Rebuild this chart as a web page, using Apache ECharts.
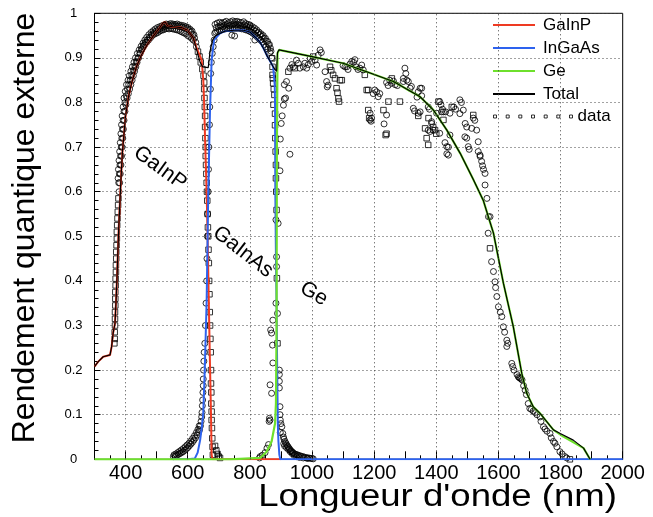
<!DOCTYPE html>
<html><head><meta charset="utf-8">
<script src="https://cdn.jsdelivr.net/npm/echarts@6/dist/echarts.min.js"></script>
<style>html,body{margin:0;padding:0;background:#fff}#c{width:653px;height:517px}</style>
</head><body><div id="c"></div>
<script>
// ---------- data ----------
const xTickLabels = [400,600,800,1000,1200,1400,1600,1800,2000];
const xGridValues = [400,600,800,1000,1200,1400,1600,1800];
const seriesNames = ['GaInP','InGaAs','Ge','Total','data'];

const gainp = [[300,0.208],[312,0.219],[328,0.23],[350,0.234],[355,0.252],[360,0.283],[366,0.305],[369,0.35],[372,0.40],[375,0.46],[378,0.52],[382,0.58],[386,0.64],[390,0.69],[400,0.77],[410,0.815],[420,0.845],[435,0.88],[450,0.905],[470,0.93],[490,0.95],[510,0.968],[520,0.978],[527,0.981],[535,0.972],[550,0.97],[580,0.968],[600,0.962],[618,0.945],[630,0.92],[645,0.895],[650,0.852],[652.5,0.806],[656.6,0.70],[661,0.596],[664,0.5],[668.5,0.33],[672,0.2],[675,0.1],[677,0.01],[680,0],[900,0]];

const ingaas = [[550,0],[600,0],[623,0.002],[632,0.015],[640,0.043],[645,0.07],[650,0.103],[654.6,0.193],[658,0.28],[661,0.357],[666,0.59],[671.7,0.78],[677,0.895],[684.6,0.94],[704,0.955],[720,0.96],[750,0.962],[780,0.962],[800,0.958],[820,0.945],[833,0.935],[845,0.92],[855,0.905],[865,0.893],[875,0.88],[880,0.84],[881,0.80],[882,0.6],[884,0.45],[886,0.35],[888,0.2],[890,0.08],[892,0.04],[895,0.01],[898,0],[2000,0]];

const ge = [[300,0],[736,0],[833,0.003],[854,0.017],[870,0.04],[881,0.08],[884,0.125],[886,0.3],[887,0.7],[889,0.91],[894,0.918],[1000,0.903],[1100,0.888],[1176,0.869],[1262,0.847],[1348,0.813],[1391,0.783],[1434,0.738],[1477,0.686],[1520,0.626],[1551,0.581],[1584,0.507],[1616,0.395],[1648,0.297],[1675,0.193],[1691,0.148],[1712,0.118],[1734,0.103],[1777,0.066],[1809,0.051],[1850,0.035],[1874,0.025],[1895,0]];

const total = [[300,0.208],[312,0.219],[328,0.23],[350,0.234],[355,0.252],[360,0.283],[366,0.305],[369,0.35],[372,0.40],[375,0.46],[378,0.52],[382,0.58],[386,0.64],[390,0.69],[400,0.77],[410,0.815],[420,0.845],[435,0.88],[450,0.905],[470,0.93],[490,0.95],[510,0.968],[520,0.978],[527,0.981],[535,0.972],[550,0.97],[580,0.968],[600,0.962],[618,0.945],[630,0.915],[640,0.89],[648,0.88],[666,0.878],[672,0.915],[680,0.94],[690,0.95],[704,0.955],[720,0.96],[750,0.962],[780,0.962],[800,0.958],[820,0.945],[833,0.935],[845,0.92],[855,0.905],[865,0.893],[875,0.88],[886,0.87],[889,0.912],[894,0.918],[1000,0.903],[1100,0.888],[1176,0.869],[1262,0.847],[1348,0.813],[1391,0.783],[1434,0.738],[1477,0.686],[1520,0.626],[1551,0.581],[1584,0.507],[1616,0.395],[1648,0.297],[1675,0.193],[1691,0.148],[1712,0.118],[1734,0.103],[1777,0.066],[1799,0.058],[1841,0.043],[1874,0.025],[1895,0]];

// measured points, open squares
const dataSquares = [
[364,0.26],[365,0.27],[365,0.285],[366,0.30],[366,0.315],[366,0.33],[367,0.345],[367,0.36],[367,0.375],[368,0.39],[368,0.405],[369,0.42],[369,0.435],[370,0.45],[370,0.465],[371,0.48],[372,0.495],[372,0.51],[373,0.525],[374,0.54],[375,0.555],[376,0.57],[377,0.585],
[633,0.914],[638,0.903],[642,0.89],[647,0.875],[651,0.86],[653,0.845],[653,0.83],[654,0.81],[655,0.79],[656,0.77],[656,0.745],[657,0.72],[658,0.70],[658,0.68],[659,0.66],[660,0.64],[661,0.62],[662,0.60],[663,0.58],[664,0.55],[665,0.52],[666,0.50],[667,0.47],[668,0.44],[669,0.40],[670,0.37],[671,0.33],[672,0.30],[673,0.27],[674,0.24],[675,0.20],[675,0.17],[676,0.15],[676,0.125],[677,0.107],[677,0.088],[678,0.07],[679,0.047],[680,0.028],[681,0.01],[688,0.03],[692,0.02],[696,0.012],[700,0.006],[704,0.003],
[872,0.899],[873,0.88],[873,0.862],[874,0.854],[875,0.843],[877,0.83],[879,0.817],[876,0.795],[881,0.775],[881,0.749],[882,0.72],[883,0.69],[884,0.66],[884,0.63],[885,0.60],[886,0.559],[887,0.406],[889,0.26],
[924,0.869],[945,0.877],[1004,0.903],[1058,0.880],[1062,0.872],[1068,0.862],[1074,0.854],[1079,0.832],[1082,0.822],[1085,0.809],[1087,0.802],[1090,0.85],[1096,0.85],[1170,0.862],[1176,0.828],[1181,0.828],[1181,0.783],[1184,0.765],[1230,0.783],[1237,0.727],[1240,0.73],[1246,0.802],[1257,0.854],[1283,0.802],[1342,0.77],[1364,0.742],[1369,0.72],[1374,0.705],[1396,0.738],[1390,0.745],[1400,0.73],[1407,0.802],[1423,0.761],[1450,0.79],[1519,0.772],[1375,0.765],
[1573,0.473],[1830,0.0]
];

// measured points, open circles
const dataCircles = [
[379,0.60],[381,0.62],[383,0.64],[385,0.66],[387,0.68],[389,0.70],[391,0.72],[393,0.74],[395,0.76],[398,0.78],[401,0.795],[405,0.81],[409,0.82],[413,0.83],[417,0.84],[421,0.85],[425,0.86],[429,0.87],[433,0.88],[437,0.89],[442,0.90],[447,0.91],[452,0.918],[457,0.925],[462,0.93],[468,0.935],[474,0.94],[480,0.945],[486,0.95],[492,0.953],[498,0.955],[504,0.957],[510,0.96],[516,0.962],[522,0.963],[528,0.965],[534,0.966],[540,0.965],[546,0.966],[552,0.965],[558,0.964],[564,0.963],[570,0.962],[576,0.96],[582,0.958],[588,0.956],[594,0.954],[600,0.95],[606,0.948],[612,0.944],[618,0.94],
[378,0.62],[380,0.64],[382,0.66],[384,0.68],[386,0.70],[388,0.72],[390,0.74],[392,0.76],[395,0.78],[398,0.80],[402,0.815],[406,0.83],[410,0.84],[415,0.85],[420,0.862],[425,0.872],[430,0.882],[435,0.892],[440,0.90],[446,0.91],[452,0.92],[458,0.928],[464,0.935],[470,0.94],[477,0.946],[484,0.952],[491,0.956],[498,0.96],[505,0.963],[512,0.966],[519,0.968],[526,0.97],[533,0.972],[540,0.972],[547,0.973],[554,0.972],[561,0.972],[568,0.971],[575,0.97],[582,0.969],[589,0.968],[596,0.966],[603,0.963],[610,0.958],[616,0.952],[622,0.945],
[376,0.63],[377,0.65],[379,0.67],[381,0.69],[383,0.71],[385,0.73],[387,0.75],[389,0.77],[392,0.79],[395,0.81],[399,0.825],[403,0.84],[408,0.85],[412,0.86],[417,0.87],[422,0.88],[427,0.89],[432,0.90],[438,0.91],[444,0.918],[450,0.926],[456,0.933],[462,0.94],[468,0.946],[475,0.952],[482,0.957],[489,0.961],[496,0.965],[503,0.968],[510,0.97],[517,0.972],[524,0.974],[531,0.976],[538,0.975],[545,0.977],[552,0.976],[559,0.975],[566,0.976],[573,0.974],[580,0.973],[587,0.972],[594,0.97],[601,0.968],[608,0.964],[614,0.96],[620,0.952],[626,0.935],[628,0.925],
[554,0.006],[560,0.007],[565,0.009],[570,0.011],[575,0.013],[580,0.015],[585,0.017],[590,0.02],[595,0.023],[600,0.026],[605,0.03],[610,0.034],[615,0.038],[620,0.043],[625,0.048],[630,0.054],[635,0.06],[638,0.066],[641,0.075],[643,0.085],[645,0.095],[646,0.105],[647,0.12],[648,0.133],[649,0.15],[650,0.165],[650,0.18],[651,0.2],[652,0.22],[653,0.24],[655,0.26],[657,0.30],[659,0.35],[661,0.40],[662,0.45],[663,0.50],[664,0.55],[666,0.60],[667,0.65],[668,0.70],[670,0.75],[671,0.79],[673,0.83],[674,0.865],[676,0.89],[679,0.91],[682,0.925],[685,0.94],[687,0.955],
[556,0.01],[562,0.012],[568,0.015],[574,0.018],[580,0.021],[586,0.024],[592,0.028],[598,0.032],[604,0.036],[610,0.041],[616,0.047],[622,0.053],[628,0.06],[633,0.067],[637,0.075],
[690,0.958],[696,0.96],[702,0.962],[708,0.963],[714,0.964],[720,0.965],[726,0.966],[732,0.966],[738,0.965],[744,0.966],[750,0.967],[756,0.966],[762,0.967],[768,0.966],[774,0.965],[780,0.965],[786,0.963],[792,0.962],[798,0.96],[804,0.958],[810,0.955],[816,0.952],[822,0.948],[828,0.944],[834,0.94],[840,0.936],[846,0.93],[852,0.925],[858,0.92],[864,0.912],[870,0.90],
[692,0.968],[699,0.97],[706,0.972],[713,0.97],[720,0.973],[727,0.975],[734,0.972],[741,0.974],[748,0.976],[755,0.974],[762,0.975],[769,0.973],[776,0.972],[783,0.974],[790,0.97],[797,0.968],[804,0.966],[811,0.963],[818,0.96],[825,0.956],[832,0.952],[839,0.948],[846,0.943],[853,0.937],[860,0.93],[866,0.922],[800,0.974],[742,0.951],[751,0.949],[816,0.94],
[688,0.975],[695,0.978],[703,0.98],[710,0.978],[717,0.98],[724,0.982],[731,0.979],[738,0.981],[745,0.983],[752,0.981],[759,0.982],[766,0.98],[773,0.979],[780,0.981],[787,0.977],[794,0.975],[801,0.972],[808,0.97],[815,0.967],[822,0.963],[829,0.958],[836,0.954],[843,0.95],[850,0.944],[857,0.937],[863,0.93],[868,0.915],
[831,0.003],[833,0.006],[840,0.009],[849,0.015],[855,0.025],[860,0.033],[862,0.085],[863,0.092],[865,0.088],[865,0.167],[870,0.148],[867,0.29],[870,0.283],[873,0.256],[874,0.216],[874,0.312],[884,0.35],[886,0.432],[886,0.454],[884,0.537],[891,0.529],[889,0.327],[895,0.2],[895,0.175],[895,0.19],[895,0.16],[897,0.118],[897,0.1],[898,0.088],[900,0.08],[898,0.06],[903,0.073],[906,0.058],[908,0.05],
[897,0.647],[898,0.718],[901,0.753],[904,0.77],[908,0.794],[911,0.808],[915,0.81],[911,0.84],[918,0.847],[925,0.832],[929,0.684],
[910,0.045],[913,0.04],[916,0.036],[919,0.032],[922,0.029],[925,0.026],[928,0.023],[931,0.02],[934,0.018],[937,0.016],[940,0.014],[944,0.012],[948,0.011],[952,0.01],[956,0.009],[960,0.008],[965,0.007],[970,0.006],[975,0.005],[980,0.004],[985,0.003],[990,0.003],[995,0.002],[1000,0.002],[1004,0.001],
[909,0.035],[912,0.03],[918,0.026],[924,0.022],[930,0.017],[936,0.013],[942,0.009],[950,0.006],[960,0.004],[972,0.003],[985,0.002],
[929,0.877],[935,0.885],[940,0.880],[950,0.895],[956,0.888],[961,0.877],[972,0.880],[977,0.888],[983,0.877],[988,0.885],[994,0.899],[999,0.892],[1010,0.895],[1015,0.884],[1020,0.906],[1026,0.918],[1030,0.912],[1042,0.869],[1047,0.847],[1049,0.835],[1052,0.839],[1100,0.883],[1106,0.880],[1112,0.88],[1116,0.874],[1122,0.886],[1128,0.892],[1134,0.89],[1138,0.896],[1142,0.88],[1148,0.874],[1154,0.877],[1160,0.884],[1165,0.873],[1197,0.82],[1202,0.828],[1208,0.824],[1213,0.813],[1218,0.82],[1187,0.776],[1187,0.761],[1190,0.758],[1192,0.765],[1240,0.772],[1232,0.752],[1240,0.845],[1245,0.838],[1250,0.85],[1256,0.843],[1262,0.848],[1268,0.84],[1275,0.838],[1294,0.854],[1299,0.877],[1302,0.865],[1294,0.847],[1305,0.85],[1310,0.847],[1316,0.832],[1320,0.836],[1342,0.824],[1338,0.812],[1348,0.832],[1353,0.832],[1353,0.815],[1326,0.787],[1330,0.781],[1342,0.776],[1348,0.779],[1374,0.79],[1378,0.785],[1401,0.776],[1411,0.802],[1415,0.795],[1417,0.779],[1420,0.785],[1423,0.779],[1430,0.779],[1444,0.776],[1456,0.79],[1462,0.785],[1476,0.806],[1481,0.80],[1487,0.783],[1476,0.775],[1385,0.757],[1374,0.738],[1380,0.735],[1385,0.753],[1390,0.738],[1411,0.731],[1428,0.71],[1434,0.701],[1439,0.70],[1434,0.685],[1439,0.682],[1444,0.727],[1493,0.753],[1498,0.745],[1514,0.742],[1519,0.765],[1524,0.76],[1492,0.723],[1498,0.72],[1503,0.701],[1506,0.695],[1530,0.738],[1535,0.712],[1535,0.69],[1541,0.682],[1541,0.679],[1546,0.668],[1549,0.658],[1552,0.65],[1557,0.641],[1557,0.615],[1563,0.585],
[1568,0.544],[1573,0.544],[1567,0.507],[1578,0.443],[1584,0.421],[1589,0.398],[1591,0.385],[1595,0.365],[1600,0.342],[1606,0.33],[1611,0.32],[1616,0.297],[1620,0.285],[1627,0.267],[1630,0.26],[1627,0.253],[1643,0.215],[1646,0.208],[1650,0.2],[1660,0.19],[1664,0.185],[1667,0.183],[1670,0.182],[1673,0.18],[1676,0.178],[1681,0.165],[1686,0.155],[1690,0.145],[1696,0.125],[1701,0.114],[1706,0.112],[1712,0.108],[1718,0.105],[1724,0.1],[1734,0.095],[1737,0.085],[1745,0.073],[1750,0.068],[1756,0.063],[1766,0.058],[1770,0.048],[1777,0.04],[1782,0.036],[1788,0.028],[1798,0.017],[1805,0.012],[1814,0.006],[1820,0.003]
];

// in-plot labels: text, wavelength, value, angle (deg)
const annotations = [['GaInP',511,0.653,-36],['GaInAs',778,0.465,-38],['Ge',1006,0.371,-30]];

// ---------- chart ----------
const FONT = 'Liberation Sans, Arial, Helvetica, sans-serif';
const chart = echarts.init(document.getElementById('c'), null, {renderer:'canvas'});
const dotted = {type:[1,3], color:'#444', width:1};
const dataIcon = 'path://M0,0h3v3h-3z M12.7,0h3v3h-3z M25.3,0h3v3h-3z M38,0h3v3h-3z M50.7,0h3v3h-3z M63.3,0h3v3h-3z M76,0h3v3h-3z';
const openStyle = {color:'rgba(0,0,0,0)', borderColor:'#000', borderWidth:1};
const lineColors = {GaInP:'#ee3a22', InGaAs:'#2d62ee', Ge:'#6ee02c', Total:'#000'};

chart.setOption({
  animation:false,
  backgroundColor:'#fff',
  grid:{left:94.5, right:30.3, top:13.3, bottom:57.7, show:true, borderColor:'#000', borderWidth:1, backgroundColor:'transparent'},
  xAxis:{type:'value', min:300, max:2000, interval:100,
    axisLine:{lineStyle:{color:'#000', width:1}},
    axisTick:{inside:true, length:8, lineStyle:{color:'#000'}},
    minorTick:{show:true, splitNumber:2, length:4, lineStyle:{color:'#000'}},
    splitLine:{show:false},
    axisLabel:{color:'#000', fontFamily:FONT, fontSize:20, margin:4,
      formatter:v => xTickLabels.indexOf(v) >= 0 ? String(v) : ''}},
  yAxis:{type:'value', min:0, max:1, interval:0.1,
    axisLine:{show:true, lineStyle:{color:'#000', width:1}},
    axisTick:{show:true, inside:true, length:6, lineStyle:{color:'#000'}},
    minorTick:{show:true, splitNumber:5, length:4, lineStyle:{color:'#000'}},
    splitLine:{show:true, lineStyle:dotted},
    axisLabel:{color:'#000', fontFamily:FONT, fontSize:13, align:'center', margin:21,
      formatter:v => (Math.abs(v-1)<1e-9 ? '1' : (Math.abs(v)<1e-9 ? '0' : v.toFixed(1)))}},
  legend:[
    {orient:'vertical', left:493, top:16.5, padding:0, itemWidth:42, itemHeight:2, itemGap:6, icon:'rect',
     data:['GaInP','InGaAs','Ge','Total'].map(n => ({name:n, icon:'rect', itemStyle:{color:lineColors[n], borderWidth:0}})),
     textStyle:{color:'#000', fontFamily:FONT, fontSize:17, lineHeight:17, padding:[0,0,0,3]}},
    {orient:'vertical', left:493, top:108, padding:0, itemWidth:79, itemHeight:3,
     data:[{name:'data', icon:dataIcon, itemStyle:openStyle}], textStyle:{color:'#000', fontFamily:FONT, fontSize:17, lineHeight:17}}
  ],
  series:[
    {type:'line', name:'grid', data:[], silent:true, z:1,
     markLine:{silent:true, symbol:['none','none'], label:{show:false}, lineStyle:dotted, data:xGridValues.map(v=>({xAxis:v}))}},
    {type:'line', name:'GaInP', data:gainp, showSymbol:false, symbol:'none', lineStyle:{color:lineColors.GaInP, width:2}, itemStyle:{color:lineColors.GaInP}},
    {type:'line', name:'InGaAs', data:ingaas, showSymbol:false, symbol:'none', lineStyle:{color:lineColors.InGaAs, width:2}, itemStyle:{color:lineColors.InGaAs}},
    {type:'line', name:'Ge', data:ge, showSymbol:false, symbol:'none', lineStyle:{color:lineColors.Ge, width:2.2}, itemStyle:{color:lineColors.Ge}},
    {type:'line', name:'Total', data:total, showSymbol:false, symbol:'none', lineStyle:{color:'#000', width:1.2}, itemStyle:{color:'#000'}},
    {type:'scatter', name:'data', data:dataCircles, symbol:'circle', symbolSize:6, itemStyle:openStyle},
    {type:'scatter', name:'data', data:dataSquares, symbol:'rect', symbolSize:5.5, itemStyle:openStyle}
  ]
});

const g = [];
annotations.forEach(a => {
  const p = chart.convertToPixel({gridIndex:0}, [a[1], a[2]]);
  g.push({type:'text', x:p[0], y:p[1], rotation:a[3]*Math.PI/180,
    style:{text:a[0], font:'21px '+FONT, fill:'#000', align:'center', verticalAlign:'middle'}});
});
g.push({type:'text', x:25, y:228, rotation:Math.PI/2,
  style:{text:'Rendement quantique externe', font:'32px '+FONT, fill:'#000', align:'center', verticalAlign:'middle'}});
g.push({type:'text', x:617, y:497, scaleX:1.18,
  style:{text:"Longueur d'onde (nm)", font:'31px '+FONT, fill:'#000', align:'right', verticalAlign:'middle'}});
chart.setOption({graphic:g});
</script></body></html>
